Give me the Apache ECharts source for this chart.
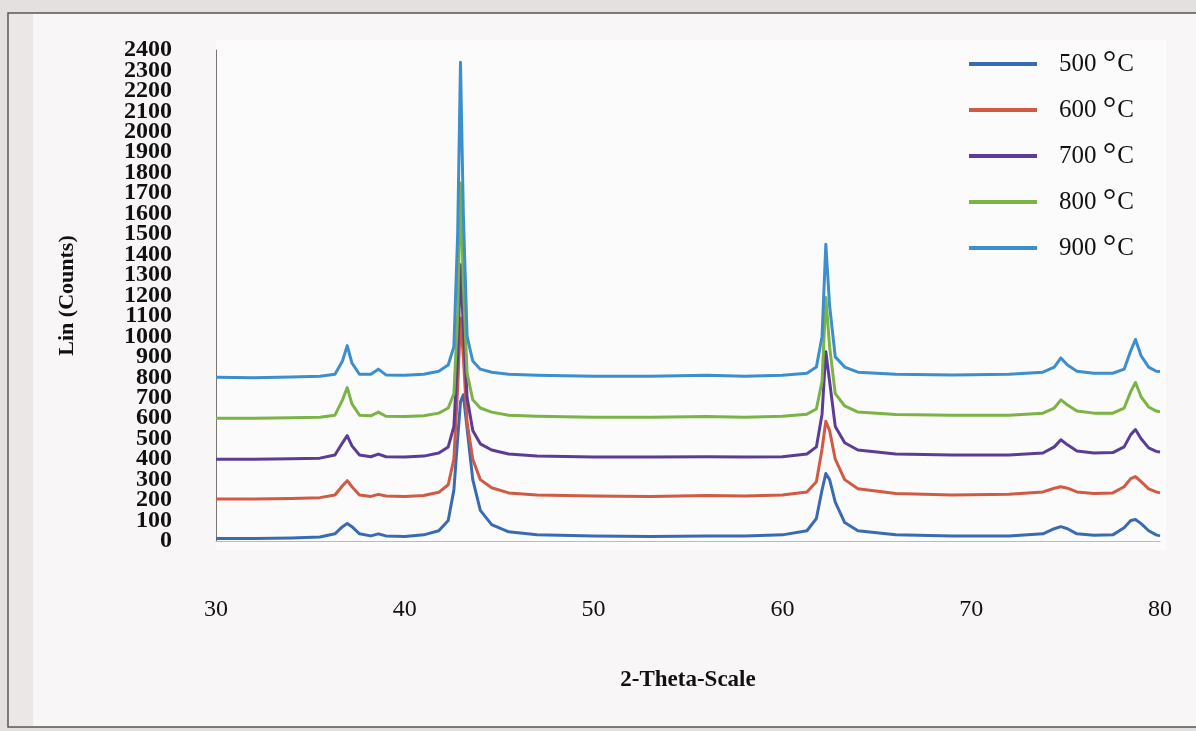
<!DOCTYPE html>
<html>
<head>
<meta charset="utf-8">
<script src="https://cdn.jsdelivr.net/npm/echarts@6/dist/echarts.min.js"></script>
<style>
html,body{margin:0;padding:0;background:#f6f4f4;}
#c{width:1196px;height:731px;}
</style>
</head>
<body>
<div id="c"></div>
<script>
// 2-theta positions (degrees)
const twoTheta = [30, 32, 34, 35.5, 36.3, 36.7, 36.95, 37.2, 37.6, 38.2, 38.6, 39.0, 40, 41, 41.8, 42.3, 42.6, 42.8, 42.95, 43.1, 43.3, 43.6, 44.0, 44.6, 45.5, 47, 50, 53, 56, 58, 60, 61.3, 61.8, 62.1, 62.3, 62.5, 62.8, 63.3, 64, 66, 69, 72, 73.8, 74.4, 74.75, 75.1, 75.6, 76.5, 77.5, 78.1, 78.45, 78.7, 79.0, 79.4, 79.8, 80];

const s500 = [12, 12, 15, 20, 35, 70, 85, 70, 35, 25, 35, 25, 22, 30, 50, 100, 250, 500, 680, 715, 550, 300, 150, 80, 45, 30, 25, 22, 25, 25, 30, 50, 110, 250, 330, 300, 190, 90, 50, 30, 25, 25, 35, 60, 70, 60, 35, 28, 30, 65, 100, 105, 85, 50, 30, 25];
const s600 = [205, 205, 208, 212, 225, 270, 295, 265, 225, 218, 228, 220, 218, 222, 238, 275, 400, 750, 1090, 900, 580, 400, 300, 260, 235, 225, 220, 218, 222, 220, 225, 240, 290, 450, 585, 540, 400, 300, 255, 232, 225, 228, 240, 258, 265, 258, 240, 232, 235, 265, 305, 315, 290, 255, 240, 235];
const s700 = [400, 400, 402, 405, 420, 480, 515, 465, 420, 412, 425, 412, 410, 415, 430, 460, 560, 900, 1350, 1050, 700, 540, 475, 445, 425, 415, 410, 410, 412, 410, 412, 425, 460, 620, 925, 780, 560, 480, 445, 425, 420, 420, 430, 460, 495, 470, 440, 430, 432, 460, 520, 545, 500, 455, 438, 435];
const s800 = [600, 600, 602, 605, 615, 690, 750, 670, 615, 612, 630, 610, 608, 612, 625, 650, 720, 1100, 1750, 1250, 820, 690, 650, 630, 615, 610, 605, 605, 608, 605, 610, 620, 645, 780, 1190, 950, 720, 660, 630, 618, 615, 615, 625, 650, 690, 665, 635, 625, 625, 650, 730, 775, 705, 655, 635, 632];
const s900 = [800, 798, 802, 805, 815, 880, 955, 870, 815, 815, 840, 812, 810, 815, 830, 860, 950, 1500, 2340, 1600, 1000, 880, 840, 825, 815, 810, 805, 805, 810, 805, 810, 820, 850, 1000, 1450, 1150, 900, 850, 825, 815, 812, 815, 825, 850, 895, 860, 830, 820, 820, 840, 930, 985, 905, 850, 830, 828];

const seriesNames = ['500 °C', '600 °C', '700 °C', '800 °C', '900 °C'];
const seriesValues = [s500, s600, s700, s800, s900];
const colors = ['#3a6bb2', '#d05a43', '#5b3d95', '#79b445', '#3d8ecd'];

const xTicks = [30, 40, 50, 60, 70, 80];
const yMin = 0, yMax = 2400, yStep = 100;

const chart = echarts.init(document.getElementById('c'));
const serif = 'Liberation Serif';

function yAxisDef(showEven, isMain) {
  return {
    type: 'value',
    position: 'left',
    min: yMin, max: yMax, interval: yStep,
    name: isMain ? 'Lin (Counts)' : '',
    nameLocation: 'middle',
    nameGap: 138,
    nameTextStyle: { fontFamily: serif, fontSize: 22, fontWeight: 'bold', color: '#111' },
    axisLine: { show: isMain, onZero: false, lineStyle: { color: '#777', width: 1 } },
    axisTick: { show: false },
    splitLine: { show: false },
    axisLabel: {
      margin: 44, fontFamily: serif, fontSize: 24, fontWeight: 'bold', color: '#111',
      formatter: function (v) {
        const even = (Math.round(v / yStep) % 2) === 0;
        return even === showEven ? String(v) : '';
      }
    }
  };
}

chart.setOption({
  backgroundColor: '#f7f5f5',
  animation: false,
  graphic: [
    { type: 'rect', z: -10, shape: { x: 0, y: 0, width: 1196, height: 731 }, style: { fill: '#e4e0e0' } },
    { type: 'rect', z: -9, shape: { x: 8, y: 13, width: 1200, height: 714 }, style: { fill: '#f8f6f6', stroke: '#555', lineWidth: 1.5 } },
    { type: 'rect', z: -8, shape: { x: 9, y: 14, width: 24, height: 712 }, style: { fill: '#ebe7e7' } },
    { type: 'rect', z: -8, shape: { x: 216, y: 40, width: 950, height: 510 }, style: { fill: '#fcfbfb' } }
  ],
  grid: { left: 216, right: 36, top: 50, bottom: 190, containLabel: false },
  legend: {
    orient: 'vertical',
    left: 964,
    top: 42,
    itemWidth: 68,
    itemHeight: 4,
    itemGap: 12,
    icon: 'rect',
    data: seriesNames,
    formatter: function (name) {
      const parts = name.split(' °');
      return '{n|' + parts[0] + ' }{d|°}{n|' + parts[1] + '}';
    },
    textStyle: {
      padding: [0, 0, 0, 17],
      rich: {
        n: { fontFamily: serif, fontSize: 25, color: '#111', verticalAlign: 'bottom', height: 32, lineHeight: 32 },
        d: { fontFamily: serif, fontSize: 34, color: '#111', verticalAlign: 'top', height: 32, lineHeight: 32, padding: [0, 1, 0, 0] }
      }
    }
  },
  xAxis: {
    type: 'value',
    min: 30, max: 80, interval: 10,
    name: '2-Theta-Scale',
    nameLocation: 'middle',
    nameGap: 128,
    nameTextStyle: { fontFamily: serif, fontSize: 23, fontWeight: 'bold', color: '#111' },
    axisLine: { show: true, onZero: false, lineStyle: { color: '#bbb', width: 1 } },
    axisTick: { show: false },
    splitLine: { show: false },
    axisLabel: {
      margin: 57, fontFamily: serif, fontSize: 24, color: '#111',
      formatter: function (v) { return xTicks.indexOf(v) >= 0 ? String(v) : ''; }
    }
  },
  yAxis: [yAxisDef(true, true), yAxisDef(false, false)],
  series: seriesNames.map(function (name, i) {
    return {
      name: name,
      type: 'line',
      yAxisIndex: 0,
      showSymbol: false,
      smooth: false,
      data: twoTheta.map(function (t, j) { return [t, seriesValues[i][j]]; }),
      itemStyle: { color: colors[i] },
      lineStyle: { color: colors[i], width: 3, join: 'round' },
      z: 2 + i
    };
  })
});
</script>
</body>
</html>
